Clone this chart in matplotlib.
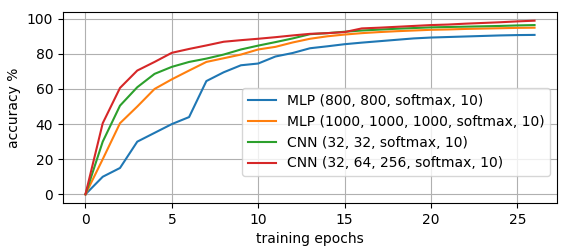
import matplotlib
matplotlib.use("Agg")
import matplotlib.pyplot as plt

epochs = list(range(27))

mlp_800 = [0, 10, 15, 30, 35, 40, 44, 64.5, 69.5, 73.5, 74.5, 78.5, 80.5, 83.2,
           84.3, 85.5, 86.4, 87.2, 88, 88.8, 89.3, 89.6, 89.9, 90.2, 90.5, 90.7, 90.8]
mlp_1000 = [0, 20, 40.5, 50, 60, 65.5, 70.5, 75.4, 77.5, 79.6, 82.5, 84, 86.5, 88.6,
            90, 91, 91.8, 92.4, 92.9, 93.3, 93.7, 93.9, 94.2, 94.4, 94.6, 94.8, 94.9]
cnn_small = [0, 30, 50.5, 61, 68.6, 72.6, 75.4, 77.3, 79.6, 82.5, 84.7, 86.7, 88.8, 91.2,
             91.8, 92.6, 93.3, 93.8, 94.3, 94.7, 95.1, 95.3, 95.5, 95.7, 95.9, 96.2, 96.4]
cnn_big = [0, 40.5, 60.6, 70.5, 75.4, 80.6, 82.8, 84.8, 86.9, 87.8, 88.6, 89.5, 90.5, 91.4,
           91.8, 92.4, 94.5, 94.9, 95.4, 95.9, 96.4, 96.7, 97.2, 97.6, 98.0, 98.5, 98.9]

labels = ["MLP (800, 800, softmax, 10)",
          "MLP (1000, 1000, 1000, softmax, 10)",
          "CNN (32, 32, softmax, 10)",
          "CNN (32, 64, 256, softmax, 10)"]

fig, ax = plt.subplots(figsize=(5.67, 2.48), dpi=100)
fig.subplots_adjust(left=63/567, right=557/567, top=1-12/248, bottom=1-203/248)

for ys, lab in zip([mlp_800, mlp_1000, cnn_small, cnn_big], labels):
    ax.plot(epochs, ys, label=lab)

ax.set_xlabel("training epochs")
ax.set_ylabel("accuracy %")
ax.grid(True)
ax.legend(loc="lower right", bbox_to_anchor=(1, 0.105))

fig.savefig("out.png", dpi=100)
